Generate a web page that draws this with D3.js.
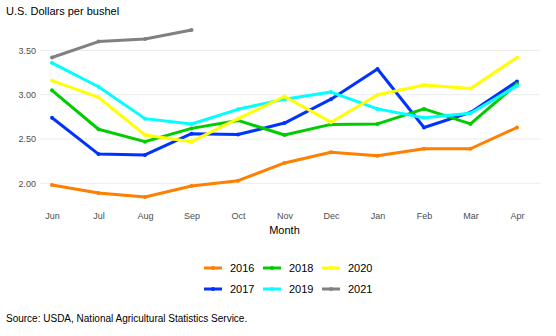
<!DOCTYPE html>
<html>
<head>
<meta charset="utf-8">
<script src="https://cdn.jsdelivr.net/npm/d3@7"></script>
<style>
body{margin:0;background:#fff;}
text{font-family:"Liberation Sans",Arial,sans-serif;}
</style>
</head>
<body>
<script>
const width=556, height=336;
const months=['Jun','Jul','Aug','Sep','Oct','Nov','Dec','Jan','Feb','Mar','Apr'];
const yTicks=[2.0,2.5,3.0,3.5];
const years=['2016','2017','2018','2019','2020','2021'];
const colors=['#FF7F00','#0033FF','#00CC00','#00FFFF','#FFFF00','#808080'];

const v2016=[1.98,1.89,1.845,1.97,2.03,2.23,2.35,2.31,2.39,2.39,2.63];
const v2017=[2.74,2.33,2.32,2.56,2.55,2.68,2.95,3.29,2.63,2.80,3.15];
const v2018=[3.05,2.61,2.47,2.62,2.71,2.545,2.665,2.67,2.84,2.67,3.12];
const v2019=[3.36,3.09,2.73,2.67,2.835,2.95,3.03,2.84,2.74,2.79,3.10];
const v2020=[3.16,2.97,2.545,2.47,2.73,2.98,2.69,3.00,3.11,3.07,3.42];
const v2021=[3.42,3.60,3.63,3.73];
const series=[v2016,v2017,v2018,v2019,v2020,v2021];

const svg=d3.select('body').append('svg').attr('width',width).attr('height',height);

const x=d3.scalePoint().domain(months).range([52,517]);
const y=d3.scaleLinear().domain([1.755,3.787]).range([205,25]);

// grid
svg.append('g').selectAll('line').data(yTicks).enter().append('line')
  .attr('x1',40).attr('x2',540)
  .attr('y1',d=>y(d)).attr('y2',d=>y(d))
  .style('stroke','#ebebeb').style('stroke-width',1);

let yAxis=svg.append('g').attr('transform','translate(40,0)')
  .call(d3.axisLeft(y).tickValues(yTicks).tickFormat(d3.format('.2f')).tickSize(0).tickPadding(4));
yAxis.select('.domain').remove();
yAxis.selectAll('text').style('font-size','9px').style('fill','#4d4d4d');

let xAxis=svg.append('g').attr('transform','translate(0,205)')
  .call(d3.axisBottom(x).tickSize(0).tickPadding(8));
xAxis.select('.domain').remove();
xAxis.selectAll('text').style('font-size','9px').style('fill','#4d4d4d');

svg.append('text').text('Month').attr('x',284.5).attr('y',234)
  .attr('text-anchor','middle').style('font-size','11px').style('fill','#000');
svg.append('text').text('U.S. Dollars per bushel').attr('x',6).attr('y',15)
  .style('font-size','11px').style('fill','#000');

const line=d3.line().x((d,i)=>x(months[i])).y(d=>y(d));

series.forEach((s,k)=>{
  let g=svg.append('g');
  g.append('path').datum(s).attr('d',line)
    .style('fill','none').style('stroke',colors[k]).style('stroke-width',3)
    .style('stroke-linejoin','round');
  g.selectAll('circle').data(s).enter().append('circle')
    .attr('cx',(d,i)=>x(months[i])).attr('cy',d=>y(d)).attr('r',2)
    .style('fill',colors[k]);
});

// legend
const legend=svg.append('g').attr('id','legend');
years.forEach((yr,k)=>{
  let col=Math.floor(k/2), row=k%2;
  let lx=204+col*59, ly=268+row*21;
  legend.append('line').attr('x1',lx).attr('x2',lx+18).attr('y1',ly).attr('y2',ly)
    .style('stroke',colors[k]).style('stroke-width',3);
  legend.append('circle').attr('cx',lx+9).attr('cy',ly).attr('r',2).style('fill',colors[k]);
  legend.append('text').text(yr).attr('x',lx+26).attr('y',ly+4)
    .style('font-size','11px').style('fill','#000');
});

svg.append('text').text('Source: USDA, National Agricultural Statistics Service.')
  .attr('x',6).attr('y',322).style('font-size','10px').style('fill','#000');
</script>
</body>
</html>
